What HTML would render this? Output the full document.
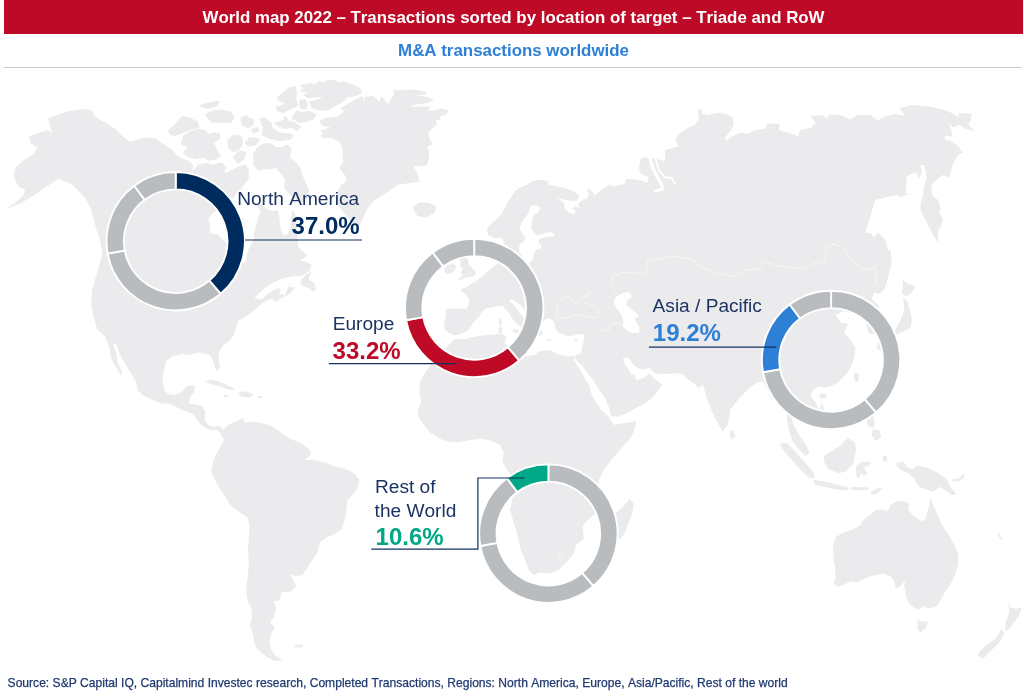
<!DOCTYPE html>
<html><head><meta charset="utf-8">
<style>
html,body{margin:0;padding:0;background:#fff;}
body{font-kerning:none;width:1024px;height:696px;position:relative;overflow:hidden;font-family:"Liberation Sans",Arial,sans-serif;}
#hdr{position:absolute;left:4px;top:0;width:1019px;height:34px;background:#be0a26;color:#fff;font-weight:bold;font-size:16.86px;line-height:36px;text-align:center;}
#sub{position:absolute;left:4px;top:34px;width:1019px;height:33px;line-height:34px;color:#2e7fd6;font-weight:bold;font-size:16.9px;text-align:center;}
#rule{position:absolute;left:4px;top:66.7px;width:1018px;height:1.4px;background:#c6c9cf;}
#foot{position:absolute;left:7.6px;top:675.7px;font-size:12.08px;color:#1f3a70;-webkit-text-stroke:0.25px #1f3a70;white-space:nowrap;}
svg{position:absolute;left:0;top:0;font-kerning:none;}
.lbl{font-size:19.1px;fill:#1c3463;}
.pct{font-size:24px;font-weight:bold;}
</style></head><body>
<div id="hdr">World map 2022 – Transactions sorted by location of target – Triade and RoW</div>
<div id="sub">M&amp;A transactions worldwide</div>
<div id="rule"></div>
<svg id="map" width="1024" height="696" viewBox="0 0 1024 696">
<g id="land" fill="#ebebed" stroke="none">
<!--MAP-->
<path d="M345.2 182 346.7 178.1 343.8 173.8 339.4 167.9 343 162 342.3 148.8 339.4 141.5 332 137.9 323.2 137.9 320.3 136.4 323.2 132.7 319.6 130.5 323.2 129.8 330.6 127.6 323.2 126.1 318.8 121 326.2 118.1 337.9 116.6 343.8 111.5 340.8 107.8 351.1 102 356.1 99 362 96.1 364.9 103.4 364.2 96.8 373.7 96.1 379.6 102 381 96.1 388.3 104.2 390.5 99.8 394.2 94.6 392.7 90.3 401.5 90 413.2 89.5 425.7 91.7 426.4 94.6 416.2 95.4 427.9 96.8 433.8 100.5 426.4 103.4 416.2 104.2 408.8 107.1 422 106.4 430.8 106.4 427.9 111.5 433.8 110 442.5 108.6 449.1 110.8 446.2 114.4 439.6 116.6 441.1 119.6 435.2 120.3 437.4 123.9 432.3 128.3 428.6 132.7 429.4 138.6 433 144.5 427.2 146.7 429.4 153.2 427.9 163.5 423.5 166.4 417.6 165.7 413.2 166.4 417.6 173.8 419.8 182 412.5 182.5 397.5 185 385 193.8 374.5 200 367.1 208.8 361.3 222 358.7 227.1 349.6 220.5 341 209 338 205 336.5 198 338 190 341 185ZM412.5 207.5 418.8 202.5 427.5 202.5 436.2 206.2 435 212.5 426.2 217.5 417.5 216.2ZM5.5 208.8 15 203 23.8 194.5 25 190 18 186.2 13.8 176.2 15.5 167.5 23.8 160 32.5 155 37.5 148 30.5 143 28.8 136.2 37.5 133.2 47.5 130 53 133 50 127 48.2 118 57.5 115 67.5 111.2 82.5 109.2 91.2 110 96.2 117.5 105 122.5 115 128.8 122.5 136.2 130 141.8 136.2 140 140 138.4 148.8 137.4 156.1 138.8 163.4 143.9 171.5 149.1 176.6 154.9 182.5 158.6 189.8 161.5 193.5 165.9 192 170.3 194.9 168.8 198.6 164.5 205.9 163 213.2 164.5 222 162.3 226.4 167.4 224.2 173.2 227.9 171.8 233.8 168.8 239.6 165.9 245.5 164.5 249.1 170.3 249 170.3 248.6 178.8 241.3 188.3 248.6 189.8 253 193.4 258.8 197.8 260.3 203.7 266.2 208.4 272 211 277.9 210.3 279.4 216.9 280.1 225.7 282.3 234.5 286.7 235.2 290.3 228.6 291.1 218.3 292.5 209.6 295.4 214.6 296.9 226.4 297.6 239.6 298.3 246.9 302.7 251.3 307.1 255.7 299.8 260.8 305.7 261.5 311.5 264.5 310.1 270.3 305.7 273.2 301.3 276.2 293.9 276.2 286.6 277.6 279.3 279.8 272 283.5 264.6 287.9 258.8 293.8 254.4 298.1 261.7 299.6 267.6 293.8 274.9 289.4 280.8 287.9 279.3 293.8 285.2 295.2 290 281.2 287.5 286.2 295 287.5 290 293.8 280 298.8 275 302.5 272.5 298.8 267.5 300 260 305 255 310 247.5 315 242.5 318.8 238.8 320 236.2 327.5 233.8 335 228.8 341.2 230 340 222.5 346.2 218.8 352.5 218.8 360 220 367.5 217.5 371.2 215 367.5 212.5 360 210 355 205 353.8 197.5 352.5 190 355 182.5 353.8 172.5 356.2 166.2 361.2 163.8 370 162.5 380 163.8 388.8 167.5 393.8 173.8 395 181.2 392.5 185 387.5 190 385 195 386.2 193.8 392.5 190 397.5 188.8 403.8 195 404.5 202.5 406.2 205.5 412.5 204.5 420 208.8 425 213.8 427 218.8 425.8 223.8 430 227 434.5 225 440 222 437.5 220 432.5 216.2 429.5 211.2 430.5 205 427.5 200 423.8 196.2 418.8 192.5 413.8 185 411.2 177.5 407.5 170 403.8 162.5 403.8 152.5 400 142.5 395 137.5 390 136.2 382.5 131.2 373.8 125 363.8 120 355 117 345.5 112.5 343 113.8 346.2 116.2 353.8 117.5 361.2 121.2 370 122.5 377 118.8 371.2 113.8 363.8 111.2 357.5 108.8 346.2 105 336.2 97.5 330 93.8 317.5 91.2 305 92 290 102.5 254 100 240 95 225 91.2 210 85 197.5 72.5 185 58.8 178.8 45 187.5 32.5 196.2 20 203.8ZM305.7 274.7 311.5 271.8 308.6 279.1 314.5 283.5 315.9 289.4 313 291.6 308.6 287.9 304.2 286.4 299.8 283.5 302 279.1ZM205 381.2 212.5 379.5 222.5 383 232.5 387.5 235 390 227.5 389.2 220 386.2 210 383.8ZM238.8 392.5 246.2 391.2 253.8 394.5 250 397.5 240 396.2ZM223 395 228.8 395.5 228 397.5 223.8 397ZM258.2 396 262.5 396 262.5 397.8 258.2 397.8ZM222.5 431.2 227.5 425 236.2 421.2 241.2 418.8 243 418 244.5 423 248.8 421.2 260 422.5 272.5 426.2 282.5 433.8 290 438.8 300 442.5 308.8 448.8 311.2 453.8 305 460 315 460 325 462.5 335 466.2 345 468.8 355 473.8 359.5 480 357.5 488.8 352.5 495 347.5 500 346.2 510 345 520 341.2 530 335 533.8 326.2 537.5 320 542.5 317.5 552.5 312.5 560 307.5 567.5 302.5 575 295 576.2 290 573.8 293 580 296.2 586.2 291.2 591.2 281.2 592.5 280 600 273.8 601.2 276.2 607.5 273.8 617.5 270 622.5 275 627.5 271.2 633.8 269.5 642.5 271.2 650 276.2 656.2 282.5 660 275 661.2 267.5 657.5 261.2 652.5 256.2 647.5 253.8 640 252.5 632.5 250 625 252 617.5 251.2 607.5 248 602.5 246.2 590 248 575 248.8 562.5 248 550 248.8 537.5 249.5 525 247.5 517.5 240 512.5 230 505 227.5 500 220 488.8 215 480 211.2 472.5 212.5 463.8 215 456.2 220 447.5 223.8 440ZM295 645 302.5 644.5 302.5 647.5 295 647.5ZM453.5 339.8 458.6 339.1 465.9 339.1 473.2 336.9 482 335.4 490.8 334.7 499.6 333.9 504.7 334.7 506.2 338.3 504.7 342.7 506.9 345.7 509.9 348.6 515 352.5 525 356.2 535 355 538.8 351.2 550 350 560 355 560 354.9 568.8 356.4 574.6 355.6 573.9 360 579 368.1 584.2 376.9 589.3 385.7 591.5 394.5 596.6 403.2 601 409.8 606.9 415 610.5 419.4 614.9 425.2 618.6 423.8 625.9 423 633.2 421.6 636.2 421.1 635.4 426.7 634 432 628.8 440 620 450 611.2 460 603.8 470 598.8 480 597.5 490 598.8 490 602.5 497.5 603.8 505 600 510 593.8 515 587.5 520 582.5 526.2 583.8 538.8 576.2 545 573.8 553.8 566.2 562.5 558.8 570 550 573.8 540 572.5 533.8 575 528.8 570 525 560 520 547.5 517.5 535 513.8 522.5 510 510 512.5 497.5 515 487.5 511.2 475 506.2 468.8 502.5 461.2 503.8 452.5 503.8 452.5 500 445 492.5 441.2 482.5 438.8 470 440 457.5 442.5 446.2 441.2 437.5 437.5 430 432.5 423.8 425 418.8 417.5 417.5 410 421.2 402.5 419.5 392.5 420 382.5 425 372.5 432.5 362.5 441.2 352.5 448.8 345ZM616.2 512.5 622.5 507.5 630 498.8 633.8 503.8 632.5 512.5 628.8 522.5 623.8 535 618.8 540 615 535 615 522.5ZM454.2 335.4 448.3 332.5 444.7 329.6 443.9 323.7 445.7 316.4 446.1 309 458.6 308.3 466.7 309 468.1 306.1 469.6 300.3 465.9 294.4 460.1 290.7 467.4 294.5 463 292.3 460.1 289.3 464.5 287.9 468.8 285.7 471.8 283.5 476.2 281.3 479.8 278.3 485 273.9 487.9 271 492.3 268.1 495.2 265.2 498.1 263 497 252 500 249 505 252 503.9 243.8 502.5 237.9 493.7 237.9 487.8 235 487.1 229.8 488.6 226.2 495.2 220.3 501 214.5 504.7 208.6 507.6 202.7 511.3 196.9 514.9 191 520.1 187.4 525.9 185.2 531.8 181.5 537.6 180 543.5 180 548.6 181.5 547.9 184.4 555.2 185.9 562.5 187.4 569.9 189.6 575.7 192.5 579.8 196.6 576.5 201 568.4 200.5 561.1 199.1 555.9 196.9 561.1 200.5 564.3 203.5 564.7 208.6 568.4 212.3 574 214.5 575.7 211.2 572.1 208.3 575.7 206.4 580.1 208.6 577.9 204.5 581.9 200.1 587.4 198.3 589.2 193.9 586.3 189.8 588.9 188.8 592.6 191.7 594.8 195.4 598.4 192.5 602.8 188.4 610 184.9 615 186.2 625 183.8 626.2 178.8 638.8 180 647.5 182.5 648.8 177.5 641.2 173.8 638.8 168.8 641.2 157.5 650 158 656.2 158.8 665 161.2 665 150 678.8 146.2 675 140 678.8 133.8 688.8 127.5 695 125 698.8 118.8 697.5 110 701.2 109.5 702.5 113.8 708.8 115 717.5 113 726.2 113.8 732.5 117.5 733.8 123.8 731.2 130 726.2 136.2 725 141.2 732.5 136.2 740 132.5 747.5 133.8 755 130 765 128.8 767.5 123.8 780 123.8 778.8 130 787.5 132.5 798 136.2 800.5 130 811.8 127.5 815.5 122.5 810.5 116.2 823 115 826.8 118.8 829.2 114.5 840.5 115 850.5 119.5 856.8 115 870.5 115 878 120.5 885.5 116.2 895.5 113.8 905.5 116.2 899.2 108 911.8 105 928 106.2 943 109.5 951.8 113 959.2 117.5 958 113 971.8 113.8 970.5 121.2 968 123.8 974.2 131.2 965.5 128.8 959.2 125 953 127.5 948 122.5 951.8 131.2 951.8 136.2 944.2 136.2 945.5 140 951.8 141.2 958 146.2 963 152.5 958 155 953 163.8 949.2 177.5 943 175 938 178.8 931.8 183.8 931.8 195 938 200 940.5 207.5 939.2 212.5 943 218.8 940.5 227.5 938 230 938 242.5 933 235 926.8 222.5 920.5 210 920.5 203.8 923 195 924.2 185 926.8 177.5 925.5 170 924.2 165 920.5 165 921.8 172.5 919.2 178.8 916.8 173.8 914.2 172.5 906.8 176.2 905.5 192.5 908 193.8 900.5 197.5 898 195 890.5 196.2 875.5 200 873 207.5 869.2 220 865.5 232.5 871.8 233.8 873 237.5 878 232.5 885.5 240 888 250 890.5 250 891.8 262.5 889.2 272.5 886.8 282.5 884.2 290 879.2 293.8 874.2 292.5 871.8 298.8 878 305 881.8 315 880.5 325 875.5 333.8 869.2 333.8 866.8 326.2 864.2 320 859.2 315 850.5 312.5 843 311.2 838 313.8 835.5 315 840.5 322.5 848 323.8 844.2 332.5 850.5 340 855.5 347.5 854.2 357.5 850.5 367.5 845.5 375 838 382.5 830.5 386.2 824.2 387.5 819.2 386.2 813 390 810.5 396.2 815.5 402.5 819.2 410 821.8 402.5 824.2 410 821.8 417.5 815.5 422.5 809.2 423.8 803 420 798 415 794.2 417.5 791.8 420 794.2 426.2 800 436.2 806 445 809.5 453 805.5 456 798 448.5 791.8 439.5 789 430.5 787.5 422.5 786.8 415 785.5 407.5 783 400 778 392.5 772.5 400 767.5 390 762.5 381.2 757.5 382.5 750 387.5 740 397.5 730 410 730 415 727.5 425 722.5 431.2 717.5 422.5 712.5 412.5 707.5 400 706.2 397.5 704.3 388.6 702.8 384.9 698.4 387.9 694.8 384.2 690.4 381.3 686 377.6 683 373.9 677.2 373.2 669.9 373.9 662.5 373.9 655.2 373.2 651.6 370.3 650.1 368.1 646.4 368.8 642 369.6 637.6 368.1 633.2 364.4 629.6 359.3 625.9 357.1 623 358.6 625.2 364.4 628.8 369.6 631.8 375.4 634.7 373.9 636.2 379.8 642 379.1 646.4 376.1 649.4 373.2 652.3 376.9 656.7 380.5 661.8 384.2 661.1 386.4 657.4 391.5 653.8 395.9 649.4 400.3 645 403.2 639.1 406.2 631.8 410.6 624.5 414.2 618.6 416.4 611.3 416.4 609.1 407.6 605.4 398.8 600.3 391.5 595.9 384.2 590.8 376.9 585.6 371 582.3 365.2 582.7 361.5 581.2 356.4 580.5 354.2 582 349 583.4 341.7 584.2 335.1 583.7 334.7 577.9 334 571.3 336.2 565.4 335.4 559.6 333.2 555.2 328.8 554.4 323 551.5 319.3 547.1 318.6 543.4 321.5 542 321.5 540.5 328.8 542.7 333.2 539.8 336.2 537.6 333.2 535.4 328.8 536.2 329.6 535.5 325.2 532.6 320 528.6 314.6 523.8 308.8 517.9 303.2 511.6 299.1 509.1 300.5 514.3 305.4 517.9 310.5 522.3 316.1 526 320.5 527.7 324.4 523.8 332.5 521.6 328.1 517.2 323.7 512.8 319.3 509.1 313.4 505.5 309 502.5 306.1 496.7 306.1 490.8 307.6 485 309 482 312 479.1 316.4 474.7 320.8 471.8 325.2 468.8 329.6 464.5 332.5 458.6 334.7ZM443.9 270.3 446.9 265.2 452 263.7 456.4 265.2 454.9 270.3 451.3 273.2 446.1 273.9ZM458.6 258.6 464.5 257.1 468.1 259.3 468.8 264.4 471.8 268.1 475.4 271 476.2 273.9 471.8 276.9 465.9 277.6 460.1 280.5 457.9 279.8 463 275.4 460.8 272.5 463 268.8 460.1 265.9 460.8 261.5ZM498.9 318.6 501.1 317.8 502.1 321.5 501.1 325.9 499.3 325.2ZM498.4 327.4 501.8 326.9 502.2 333.2 498.9 333.7ZM512.8 329.8 518.9 329.3 517.9 333.2 513.5 332.2ZM573.5 339.8 577.1 339.1 577.9 340.6 574.2 341.7ZM546.4 339.1 551.5 339.8 551.5 340.9 546.4 340.3ZM730 430 733.8 431.2 735.5 436.2 732.5 439.5 729.5 436.2ZM903 280 908 283.8 915.5 286.2 911.8 292.5 906.8 296.2 901.8 293.8 903 287.5ZM903 297.5 908 302.5 910.5 312.5 911.8 320 910.5 327.5 904.2 331.2 898 333.8 890.5 338.8 885.5 342.5 883 340 889.2 335 895.5 330 899.2 322.5 903 315 904.2 306.2ZM878 342.5 884.2 343.8 881.8 351.2 876.8 348.8ZM854.2 372.5 859.2 373.8 858 382.5 854.2 380ZM819.2 393.8 826.8 393.8 825.5 398.8 820 398ZM931 498.8 934.2 507.5 938.5 516.2 941.8 525 947.5 532.5 951.8 540 955.5 547.5 958.5 555 958 565 955 575 950.5 583.8 945.5 591.2 940.5 600 936.8 606.2 928 608.8 923 606.2 918 610 911.8 606.2 907.5 601.2 905.5 593.8 904.2 586.2 905 580 900.5 586.2 896 588.8 894.2 581.2 890.5 576.2 884.2 573.8 875.5 575 868 577 861.8 580 856.8 582.5 850.5 581.2 843 585 838 587 833.5 583.8 835.5 577.5 835 567.5 833.5 557.5 833 547.5 835.5 537.5 843 532.5 853 529.5 860.5 525 864.2 518.8 870.5 515 875.5 510 881.8 509.5 888 511.2 890.5 505 896.8 501.2 904.2 501.2 909.2 503.8 908 510 914.2 516.2 921.8 521.2 925.5 518.8 928 510 930 500ZM917.5 620 923 622 928 621.2 926 627.5 920.5 632.5 917.5 628.8ZM1008 600 1010.5 607.5 1015.5 608.8 1021.8 607.5 1019.2 615 1014.2 622.5 1009.2 628.8 1005.5 631.2 1005.5 622.5 1008.5 615 1009.2 607.5ZM1001.8 628.8 1004.2 633.8 1000.5 641.2 994.2 647.5 988 653.8 983 658.8 977.5 655 980.5 650 988 643.8 995.5 638.8 999.2 632.5ZM998 532.5 1003 540 1001.8 540.5 996.8 533.8ZM575.2 355.2 580.9 353.4 582.4 361.5 582 365.2 580.5 364.6 577.9 361.9 575.5 359.3Z"/><path stroke="#ebebed" stroke-width="1.5" stroke-linejoin="round" d="M300.5 85.9 308.6 84.1 316.7 84.4 318.8 81.5 323.2 83.7 326.2 81.2 335 80.7 337.9 82.9 343.8 82.2 352.5 85.1 359.9 88.8 361.3 92.5 355.5 95.4 346.7 96.8 343.8 100.5 336.4 104.9 329.1 109.3 320.3 110 313 107.8 310.1 102 318.8 99.8 326.2 94.6 317.4 96.8 308.6 97.6 304.2 94.6 311.5 92.5 301.3 91 305.7 88.1ZM277.8 97.6 283.7 92.5 289.6 88.1 294.7 86.6 296.1 91.7 295.4 99 297.6 105.6 292.5 107.8 288.8 109.3 283.7 112.2 277.8 110.8 276.4 107.1 284.4 104.9 285.2 102 279.3 100.5ZM300.5 100.5 304.9 99.8 307.1 104.2 305.7 108.6 301.3 108.6 299.8 104.9ZM292.5 118.1 296.9 110.8 301.3 113 308.6 111.5 315.9 114.4 313 118.8 305.7 121 299.8 122.5 295.4 119.6ZM275.6 123.2 283.7 121 285.2 116.6 288.1 121 293.9 122.5 300.5 126.9 296.9 130.5 292.5 126.9 285.2 128.3 279.3 126.1ZM260.3 118.8 264.6 118.4 271.2 123.2 272 128.3 270.5 132 282.2 133.5 292.5 134.9 291 138.6 280.8 140.1 269 137.9 262.5 134.9 263.9 128.3 261.7 123.2ZM251.5 129.8 257.3 127.6 258.8 130.5 254.4 132.7ZM248.5 118.8 253.7 119.6 252.2 125.4 248.5 126.9ZM248.5 138.6 255.9 137.9 259.5 140.1 254.4 144.5 248.5 145.9ZM254.4 153.2 260.3 145.9 269 143.7 272 144.5 266.1 148.8 263.9 154.7 261 159.8 255.9 162 253.7 157.6ZM284.4 147.4 290.3 148.8 289.6 151.8 284.4 150.3ZM168.6 130.8 175.2 124.9 182.5 116.8 189.8 118.3 197.1 122 198.6 127.1 189.8 129.3 182.5 132.2 175.2 135.2 170.8 134.4ZM181.7 143.9 183.9 135.9 191.3 131.5 198.6 129.3 204.5 130.8 208.8 135.2 213.2 133 219.1 133.7 219.8 138.1 213.2 142.5 216.2 149.8 219.8 155.7 216.2 158.6 208.8 160.1 204.5 157.1 195.7 158.6 188.3 156.4 183.9 152.7 188.3 146.9ZM200.1 105.9 208.8 102.9 219.1 101.5 216.2 105.9 207.4 108.1ZM205.9 114.6 213.2 111 222 110.3 230.8 112.5 233.8 117.6 230.8 122 222 122 213.2 122 208.8 119ZM241.1 117.6 246.9 116.1 252.8 123.4 248.4 127.8 242.5 124.9ZM227.9 141 233.8 135.2 241.1 136.6 242.5 142.5 239.6 148.3 233.8 151.3 229.4 148.3ZM245.5 142.5 251.3 138.8 258.7 140.3 255.7 144.7 248.4 146.1ZM233.8 157.1 239.6 151.3 245.5 152.7 244 158.6 238.1 163ZM257.2 148.3 264.5 143.9 271.8 145.4 268.9 151.3 264.5 158.6 258.7 161.5 255.7 155.7ZM282 147.8 287.9 144.9 290.8 149.3 289.4 158.1 295.2 162.5 299.6 168.3 302.5 177.1 305.5 184.5 308.4 190.3 306.9 197.6 301.1 202 292.3 196.2 285 188.8 285.7 178.6 279.8 171.3 276.2 166.9 270.3 169.1 264.5 168.3 258.6 169.8 254.2 165.4 254.2 158.1 258.6 151.5 264.5 146.4 270.3 144.2 276.2 147.8ZM263 128.8 270.3 127.3 282 134.6 290.8 133.9 289.4 139 279.1 140.5 270.3 137.6 264.5 134.6Z"/><path stroke="#ebebed" stroke-width="1.2" stroke-linejoin="round" d="M780.5 443.8 786.8 443.8 795.5 452.5 804.2 462.5 813 472.5 814.2 478 808 476.2 799.2 467.5 790.5 457.5 783 448.8ZM814.2 480.5 825.5 482.5 836.8 485 848 488 847.5 490 835.5 488.8 824.2 486.2 815 483.8ZM851.8 487.5 868 488 868 489.5 851.8 489.5ZM870.5 492.5 878 488.8 881.8 488.8 874.2 494.5ZM824.2 456.2 833 451.2 840.5 446.2 848 438.8 854.2 442.5 855.5 450 853 462.5 845.5 471.2 838 472.5 829.2 468.8 825 462.5ZM856.8 466.2 861.8 462.5 870.5 462.5 868 465.5 863 467 866.8 473.8 864.2 475 860.5 471.2 859.2 477.5 856.8 476.2ZM873 430 879.2 431.2 880.5 437.5 875.5 440 872.5 435ZM866.8 415 871.8 413.8 874.2 422.5 873 427.5 868 425ZM883.5 456.2 886.8 457 886 461.2 883.8 460.5ZM896.8 463.8 903 462 906.8 467.5 911.8 470 918 466.2 928 468.8 938 473.8 946.8 480 949.2 486.2 955.5 493.8 951.8 494.5 944.2 488.8 939.2 486.2 933 491.2 925.5 488.8 919.2 486.2 914.2 477.5 908 472.5 901.8 470 898 466.2ZM953 479.5 959.2 478.8 963.5 474.5 964.2 476.2 960 480.5 953.5 481Z"/><path fill="#fff" d="M613.8 301 616.7 296.6 622.5 293 629.1 292.2 632.1 296.6 627.7 300.3 626.2 304.7 631.3 309.1 637.2 313.5 638.7 316.4 635 317.9 635.7 321.5 639.4 327.4 639.4 332.5 632.8 333.2 626.2 330.3 622.5 325.9 623.3 320.1 621.1 314.2 616.7 308.3 614.5 304.7ZM530.3 206.4 534.7 204.9 539.8 207.1 539.1 211.5 534.7 214.5 531.8 220.3 531.2 228 534.2 232.7 537.1 235.6 540.7 234.4 546.6 232.7 551.3 232.1 555.4 235.6 552.4 236.8 546.6 236.8 540.7 238.6 538.3 240.3 538.9 243.3 541.3 245.6 540.1 249.7 537.1 248.6 535.4 250.3 533.6 253.9 533 258.6 530.1 262.1 526.5 264.5 523 262.1 521.8 255 520.6 253.9 518.9 250.3 519.5 244.4 523.6 242.1 525.4 237.4 521.8 232.7 519.5 228 521.8 222.1 523 220.3 528.8 213ZM226.6 205.2 219.3 208.8 213.4 212.5 208.3 218.3 210.5 225.7 209.8 233 217.8 234.5 223.7 240.3 229.6 244.7 235.4 249.1 239.8 255 241.3 260.8 243.5 263.8 245.7 260.8 247.1 253.5 249.3 247.6 252.3 242.5 254.5 237.4 253.3 234.5 255.2 228.6 257.7 219.8 260.3 212.5 258.8 208.1 254.5 205.2 260.3 203.7 258.8 197.8 253 193.4 248.6 189.8 241.3 189 236.9 192 233.9 197.8 229.6 201.5Z"/><path fill="none" stroke="#fff" stroke-width="3" stroke-linecap="round" stroke-linejoin="round" d="M649.5 157 652.5 167.5 657 176.2 661.2 183.8 663 188.8 655.5 191.2"/><path fill="none" stroke="#fff" stroke-width="1.8" stroke-linecap="round" stroke-linejoin="round" d="M655.5 158 658.8 170 665 177.5 671.2 177.5 675 183.8"/><path fill="none" stroke="#fff" stroke-opacity=".65" stroke-width=".8" stroke-linejoin="round" d="M615 292.5 611.2 285 612.5 276.2 622.5 272.5 646.2 273.8 647.5 261.2 672.5 256.2 690 258.8 705 268.8 720 273.8 735 276.2 745 270 760 268.8 763.8 261.2 780 266.2 800 268.8 812.5 263.8 825 261.2 826.2 247.5 835 243.8 833 243.8 843 247.5 853 262.5 864.3 270 875.5 267.5 876.8 282.5 871.8 287.5M600 330 608.8 331.2 611.2 323.8 621.2 322.5M556.6 312.7 558.1 303.9 563.9 296.6 568.3 295.2 572 301 575.7 303.9 578.6 299.6 584.5 295.2 590.3 291.5 588.8 295.2 581.5 299.6 584.5 302.5 591.8 305.4 597.6 309.8 599.1 314.2 596.2 317.9 588.8 317.1 581.5 314.9 574.2 314.9 568.3 317.1 562.5 317.9 556.6 316.4 556.6 312.7M563.6 556.6 562.7 559 560.6 560 558.5 559 557.6 556.6 558.5 554.2 560.6 553.2 562.7 554.2 563.6 556.6"/>
<!--/MAP-->
</g>
</svg>
<svg id="charts" width="1024" height="696" viewBox="0 0 1024 696" font-family='"Liberation Sans",Arial,sans-serif'>
<!--CHARTS-->
<g stroke="#fff" stroke-width="1.9" stroke-linejoin="round">
<path d="M175.70 172.00A69.2 69.2 0 0 1 220.64 293.82L209.34 280.59A51.8 51.8 0 0 0 175.70 189.40Z" fill="#002b5e"/>
<path d="M220.64 293.82A69.2 69.2 0 0 1 107.62 253.57L124.73 250.46A51.8 51.8 0 0 0 209.34 280.59Z" fill="#b9bcbe"/>
<path d="M107.62 253.57A69.2 69.2 0 0 1 134.25 185.79L144.67 199.72A51.8 51.8 0 0 0 124.73 250.46Z" fill="#b9bcbe"/>
<path d="M134.25 185.79A69.2 69.2 0 0 1 175.70 172.00L175.70 189.40A51.8 51.8 0 0 0 144.67 199.72Z" fill="#b9bcbe"/>
</g>
<g stroke="#fff" stroke-width="1.9" stroke-linejoin="round">
<path d="M474.20 238.70A69.2 69.2 0 0 1 519.14 360.52L507.84 347.29A51.8 51.8 0 0 0 474.20 256.10Z" fill="#b9bcbe"/>
<path d="M519.14 360.52A69.2 69.2 0 0 1 406.12 320.27L423.23 317.16A51.8 51.8 0 0 0 507.84 347.29Z" fill="#be0a26"/>
<path d="M406.12 320.27A69.2 69.2 0 0 1 432.75 252.49L443.17 266.42A51.8 51.8 0 0 0 423.23 317.16Z" fill="#b9bcbe"/>
<path d="M432.75 252.49A69.2 69.2 0 0 1 474.20 238.70L474.20 256.10A51.8 51.8 0 0 0 443.17 266.42Z" fill="#b9bcbe"/>
</g>
<g stroke="#fff" stroke-width="1.9" stroke-linejoin="round">
<path d="M831.10 290.70A69.2 69.2 0 0 1 876.04 412.52L864.74 399.29A51.8 51.8 0 0 0 831.10 308.10Z" fill="#b9bcbe"/>
<path d="M876.04 412.52A69.2 69.2 0 0 1 763.02 372.27L780.13 369.16A51.8 51.8 0 0 0 864.74 399.29Z" fill="#b9bcbe"/>
<path d="M763.02 372.27A69.2 69.2 0 0 1 789.65 304.49L800.07 318.42A51.8 51.8 0 0 0 780.13 369.16Z" fill="#2e7fd6"/>
<path d="M789.65 304.49A69.2 69.2 0 0 1 831.10 290.70L831.10 308.10A51.8 51.8 0 0 0 800.07 318.42Z" fill="#b9bcbe"/>
</g>
<g stroke="#fff" stroke-width="1.9" stroke-linejoin="round">
<path d="M548.40 464.40A69.2 69.2 0 0 1 593.34 586.22L582.04 572.99A51.8 51.8 0 0 0 548.40 481.80Z" fill="#b9bcbe"/>
<path d="M593.34 586.22A69.2 69.2 0 0 1 480.32 545.97L497.43 542.86A51.8 51.8 0 0 0 582.04 572.99Z" fill="#b9bcbe"/>
<path d="M480.32 545.97A69.2 69.2 0 0 1 506.95 478.19L517.37 492.12A51.8 51.8 0 0 0 497.43 542.86Z" fill="#b9bcbe"/>
<path d="M506.95 478.19A69.2 69.2 0 0 1 548.40 464.40L548.40 481.80A51.8 51.8 0 0 0 517.37 492.12Z" fill="#00a887"/>
</g>
<g stroke="#14305f" stroke-width="1.2" fill="none"><path d="M245 240H362"/><path d="M328.9 363.7H456.2"/><path d="M648.9 347.2H776.2"/><path d="M371.3 549.2H477.9V478H524.5"/></g>
<text class="lbl" x="359.2" y="205" text-anchor="end">North America</text>
<text class="pct" x="359.6" y="233.6" text-anchor="end" fill="#002b5e">37.0%</text>
<text class="lbl" x="332.7" y="330">Europe</text>
<text class="pct" x="332.6" y="358.7" fill="#be0a26">33.2%</text>
<text class="lbl" x="652.6" y="312.4">Asia / Pacific</text>
<text class="pct" x="652.8" y="341.1" fill="#2e7fd6">19.2%</text>
<text class="lbl" x="375" y="493">Rest of</text>
<text class="lbl" x="374.6" y="516.5">the World</text>
<text class="pct" x="375.6" y="544.7" fill="#00a887">10.6%</text>
<!--/CHARTS-->
</svg>
<div id="foot">Source: S&amp;P Capital IQ, Capitalmind Investec research, Completed Transactions, Regions: North America, Europe, Asia/Pacific, Rest of the world</div>
</body></html>
